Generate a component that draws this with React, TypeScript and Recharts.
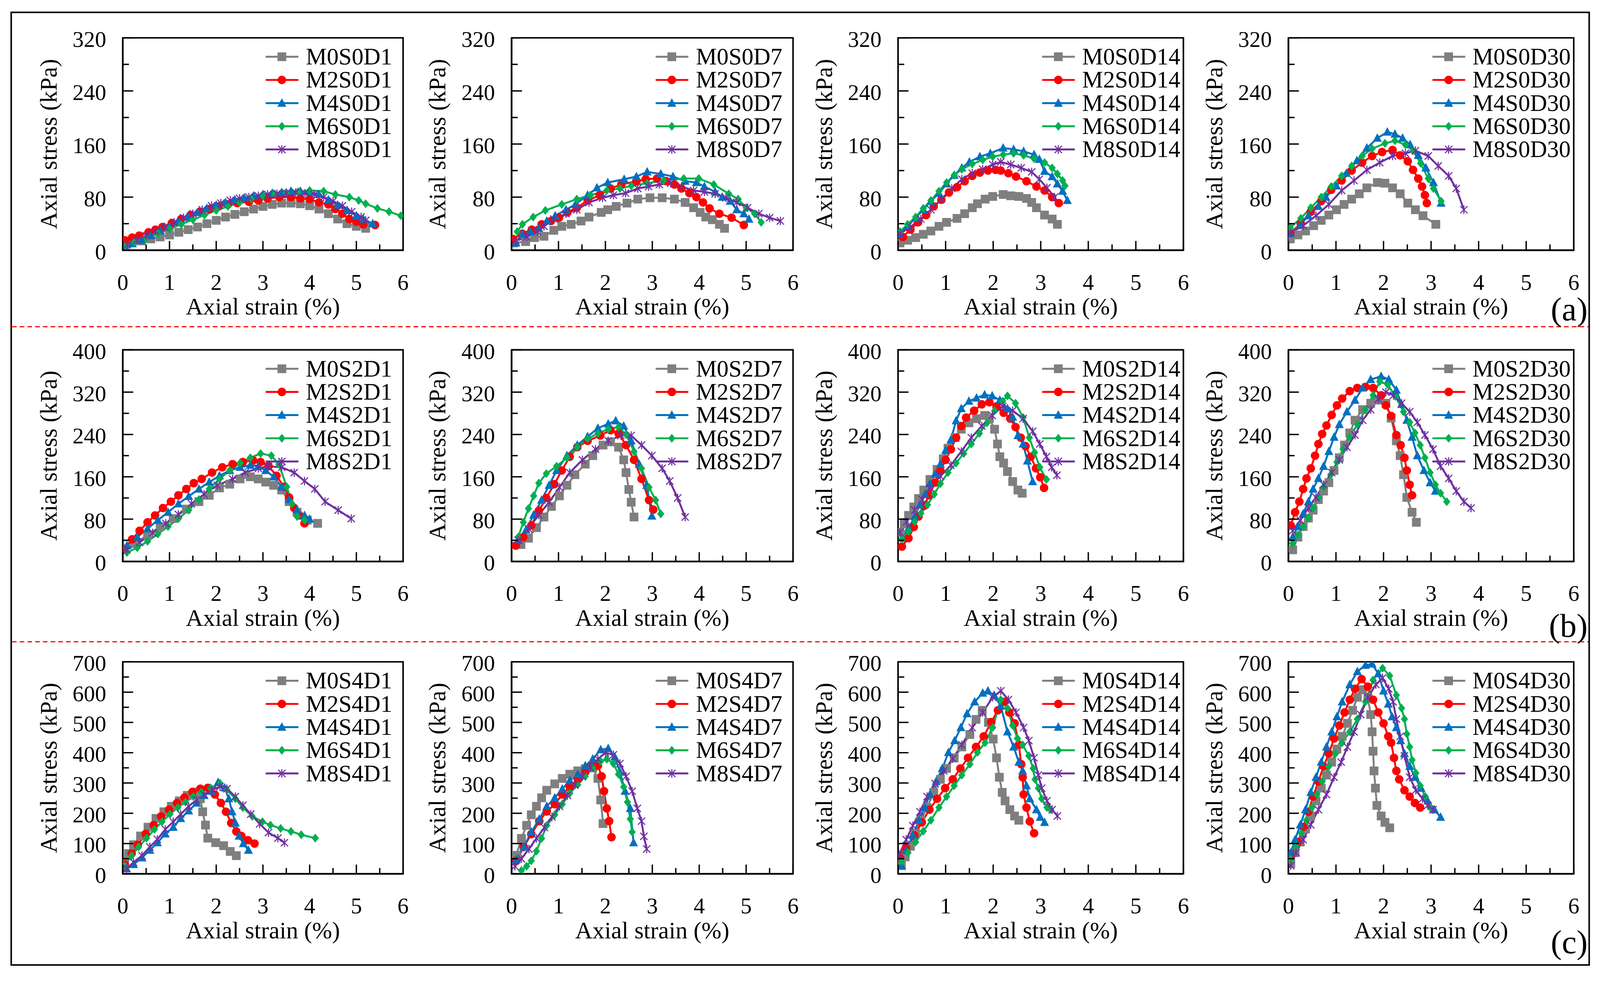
import { LineChart, Line, XAxis, YAxis, ReferenceArea, Legend, Label } from "recharts";

// ---- data: [axial strain (%), axial stress (kPa)] ----

// (a) S0
const M0S0D1 = [[0.05,8],[0.2,11],[0.4,14],[0.6,17],[0.8,20],[1.0,23],[1.2,27],[1.4,31],[1.6,35],[1.8,40],[2.0,45],[2.2,50],[2.4,54],[2.6,58],[2.8,62],[3.0,66],[3.2,69],[3.4,71],[3.6,71],[3.8,70],[4.0,67],[4.2,62],[4.4,55],[4.6,47],[4.8,40],[5.0,36],[5.2,33]];
const M2S0D1 = [[0.05,15],[0.2,19],[0.35,22],[0.55,27],[0.7,31],[0.85,35],[1.05,41],[1.25,47],[1.45,53],[1.65,58],[1.85,62],[2.05,66],[2.25,69],[2.45,71],[2.7,73],[2.9,75],[3.1,78],[3.35,80],[3.6,80],[3.8,78],[4.0,77],[4.2,72],[4.4,69],[4.55,62],[4.7,55],[4.85,47],[5.0,43],[5.15,39],[5.4,38]];
const M4S0D1 = [[0.05,3],[0.2,10],[0.4,15],[0.6,22],[0.8,29],[1.0,36],[1.2,43],[1.4,50],[1.6,57],[1.8,63],[2.0,68],[2.2,72],[2.4,76],[2.6,79],[2.8,82],[3.0,84],[3.2,86],[3.4,87],[3.6,89],[3.8,89],[4.0,88],[4.2,84],[4.4,76],[4.6,68],[4.8,60],[5.0,52],[5.15,47],[5.35,40]];
const M6S0D1 = [[0.05,7],[0.25,12],[0.5,18],[0.75,25],[1.0,32],[1.25,39],[1.5,46],[1.75,53],[2.0,60],[2.25,66],[2.5,72],[2.75,77],[3.0,81],[3.25,85],[3.5,87],[3.75,88],[4.0,90],[4.3,89],[4.55,84],[4.85,80],[5.05,75],[5.2,70],[5.45,63],[5.7,58],[5.95,52]];
const M8S0D1 = [[0.1,8],[0.3,15],[0.5,22],[0.7,29],[0.9,35],[1.1,42],[1.3,49],[1.5,55],[1.7,61],[1.9,67],[2.1,71],[2.3,75],[2.5,78],[2.7,80],[2.9,82],[3.1,84],[3.3,85],[3.5,86],[3.7,87],[3.9,86],[4.1,84],[4.3,80],[4.5,74],[4.7,67],[4.9,58],[5.1,50],[5.2,45]];

const M0S0D7 = [[0.05,11],[0.3,13],[0.49,19],[0.69,21],[0.9,30],[1.07,36],[1.27,39],[1.48,44],[1.65,50],[1.91,57],[2.05,61],[2.23,66],[2.46,71],[2.69,77],[2.95,79],[3.21,79],[3.47,77],[3.7,72],[3.88,64],[4.02,57],[4.14,50],[4.28,46],[4.43,39],[4.54,33]];
const M2S0D7 = [[0.03,17],[0.23,25],[0.43,31],[0.64,39],[0.84,44],[1.01,49],[1.19,57],[1.39,64],[1.62,75],[1.88,83],[2.11,93],[2.34,99],[2.66,104],[2.86,107],[3.1,108],[3.3,104],[3.47,99],[3.62,93],[3.79,86],[3.94,80],[4.08,72],[4.22,63],[4.43,55],[4.69,49],[4.95,38]];
const M4S0D7 = [[0.09,11],[0.23,24],[0.4,28],[0.58,33],[0.75,44],[0.93,52],[1.16,61],[1.36,69],[1.62,83],[1.82,94],[2.05,102],[2.4,107],[2.66,111],[2.89,118],[3.18,115],[3.44,111],[3.7,104],[3.94,102],[4.11,96],[4.34,88],[4.49,80],[4.66,74],[4.8,61],[4.95,55],[5.06,47]];
const M6S0D7 = [[0.12,28],[0.23,39],[0.46,50],[0.72,60],[1.07,69],[1.39,77],[1.68,83],[2.03,90],[2.31,93],[2.55,97],[2.89,101],[3.24,105],[3.67,108],[3.99,108],[4.31,99],[4.63,85],[4.83,77],[5.0,64],[5.18,55],[5.32,42]];
const M8S0D7 = [[0.09,14],[0.32,20],[0.55,28],[0.69,36],[0.9,47],[1.16,55],[1.39,61],[1.65,72],[1.94,79],[2.17,83],[2.43,86],[2.69,93],[2.92,96],[3.15,99],[3.39,101],[3.62,96],[3.88,90],[4.11,88],[4.34,85],[4.57,79],[4.8,72],[5.03,64],[5.27,55],[5.5,49],[5.73,44]];

const M0S0D14 = [[0.04,11],[0.2,15],[0.37,19],[0.53,24],[0.69,29],[0.86,36],[1.02,42],[1.24,48],[1.4,55],[1.56,64],[1.67,70],[1.83,77],[1.99,81],[2.21,84],[2.37,82],[2.54,81],[2.7,78],[2.81,72],[2.91,64],[3.08,53],[3.24,47],[3.35,39]];
const M2S0D14 = [[0.1,20],[0.26,31],[0.42,42],[0.59,53],[0.75,66],[0.91,76],[1.07,87],[1.24,95],[1.4,104],[1.56,112],[1.72,117],[1.89,120],[2.05,121],[2.16,120],[2.32,116],[2.48,111],[2.7,104],[2.91,96],[3.08,90],[3.24,80],[3.38,71]];
const M4S0D14 = [[0.04,24],[0.2,36],[0.37,49],[0.53,61],[0.69,74],[0.86,86],[1.02,100],[1.18,113],[1.34,124],[1.5,133],[1.72,141],[1.94,146],[2.21,154],[2.43,152],[2.64,149],[2.86,144],[2.97,137],[3.08,119],[3.24,111],[3.35,100],[3.46,89],[3.56,75]];
const M6S0D14 = [[0.04,28],[0.2,39],[0.37,50],[0.53,63],[0.69,75],[0.86,89],[1.02,102],[1.18,113],[1.34,122],[1.56,130],[1.78,136],[1.99,141],[2.21,144],[2.43,146],[2.64,143],[2.86,138],[3.08,132],[3.24,124],[3.35,115],[3.46,105],[3.51,97]];
const M8S0D14 = [[0.04,25],[0.26,35],[0.48,47],[0.69,61],[0.91,77],[1.13,93],[1.34,107],[1.56,116],[1.78,122],[1.99,129],[2.16,133],[2.37,129],[2.59,124],[2.81,118],[2.97,107],[3.13,94],[3.29,80]];

const M0S0D30 = [[0.04,17],[0.2,23],[0.36,29],[0.53,37],[0.69,45],[0.85,53],[1.01,61],[1.17,69],[1.33,77],[1.49,85],[1.65,94],[1.87,102],[2.03,101],[2.19,94],[2.35,85],[2.51,71],[2.67,61],[2.83,52],[3.1,39]];
const M2S0D30 = [[0.04,26],[0.26,40],[0.47,58],[0.69,74],[0.9,91],[1.12,105],[1.33,120],[1.55,132],[1.76,142],[1.97,148],[2.19,151],[2.35,143],[2.51,134],[2.62,121],[2.73,108],[2.81,96],[2.87,83],[2.91,71]];
const M4S0D30 = [[0.04,25],[0.26,39],[0.42,52],[0.63,66],[0.79,80],[1.01,97],[1.22,116],[1.44,135],[1.65,154],[1.87,169],[2.08,178],[2.24,175],[2.4,169],[2.56,159],[2.73,143],[2.89,124],[3.05,102],[3.21,71]];
const M6S0D30 = [[0.04,34],[0.26,48],[0.47,64],[0.69,80],[0.9,96],[1.12,112],[1.33,127],[1.55,142],[1.76,153],[2.03,161],[2.24,165],[2.46,159],[2.62,150],[2.78,131],[2.94,108],[3.05,93],[3.21,74]];
const M8S0D30 = [[0.04,26],[0.31,37],[0.58,52],[0.85,69],[1.12,90],[1.38,105],[1.65,121],[1.92,132],[2.19,142],[2.46,146],[2.67,150],[2.94,142],[3.15,127],[3.37,112],[3.53,93],[3.69,61]];

// (b) S2
const M0S2D1 = [[0.03,22],[0.25,34],[0.53,50],[0.8,66],[1.08,81],[1.36,99],[1.63,113],[1.85,125],[2.07,139],[2.29,146],[2.51,156],[2.73,160],[2.9,156],[3.06,150],[3.23,144],[3.4,135],[3.56,113],[3.73,93],[3.95,78],[4.17,72]];
const M2S2D1 = [[0.03,24],[0.2,42],[0.36,58],[0.53,74],[0.69,87],[0.86,101],[1.03,113],[1.19,125],[1.36,137],[1.52,148],[1.69,156],[1.91,168],[2.13,178],[2.35,184],[2.57,188],[2.79,191],[2.95,188],[3.12,180],[3.29,162],[3.45,141],[3.56,121],[3.67,101],[3.78,87],[3.89,72]];
const M4S2D1 = [[0.09,30],[0.31,46],[0.53,62],[0.75,78],[0.97,93],[1.19,109],[1.41,123],[1.63,137],[1.85,150],[2.07,162],[2.29,172],[2.51,178],[2.73,182],[2.9,180],[3.06,172],[3.23,160],[3.4,141],[3.56,117],[3.73,97],[3.89,87],[4.0,80]];
const M6S2D1 = [[0.09,17],[0.31,26],[0.53,38],[0.75,52],[0.97,66],[1.19,81],[1.41,97],[1.63,117],[1.85,137],[2.07,156],[2.29,172],[2.51,186],[2.73,196],[2.95,204],[3.18,200],[3.34,184],[3.51,141],[3.62,109],[3.73,85],[3.89,78]];
const M8S2D1 = [[0.09,22],[0.36,36],[0.64,54],[0.92,72],[1.19,89],[1.47,109],[1.74,127],[2.02,144],[2.35,156],[2.62,168],[2.9,176],[3.12,180],[3.4,178],[3.67,168],[3.89,152],[4.11,137],[4.33,113],[4.61,97],[4.89,81]];

const M0S2D7 = [[0.2,32],[0.36,44],[0.53,64],[0.69,84],[0.85,104],[1.02,124],[1.18,144],[1.35,164],[1.57,184],[1.73,200],[1.95,220],[2.11,226],[2.28,216],[2.39,192],[2.44,168],[2.5,136],[2.55,112],[2.61,84]];
const M2S2D7 = [[0.09,30],[0.25,46],[0.42,68],[0.58,96],[0.74,120],[0.91,146],[1.07,172],[1.24,198],[1.4,216],[1.62,228],[1.89,238],[2.11,248],[2.28,242],[2.44,220],[2.61,192],[2.77,156],[2.93,116],[3.02,98]];
const M4S2D7 = [[0.14,40],[0.31,60],[0.47,88],[0.64,116],[0.8,144],[0.96,172],[1.18,200],[1.4,220],[1.62,236],[1.84,252],[2.06,260],[2.22,266],[2.39,256],[2.55,228],[2.72,184],[2.88,144],[2.99,86]];
const M6S2D7 = [[0.14,46],[0.25,74],[0.36,100],[0.47,124],[0.58,148],[0.74,166],[0.96,180],[1.18,196],[1.4,216],[1.62,232],[1.84,242],[2.06,250],[2.28,254],[2.44,240],[2.61,208],[2.77,176],[2.93,140],[3.07,116],[3.18,90]];
const M8S2D7 = [[0.14,40],[0.36,62],[0.58,88],[0.8,112],[1.02,140],[1.24,168],[1.51,192],[1.79,212],[2.06,228],[2.33,238],[2.55,238],[2.77,220],[2.99,200],[3.21,176],[3.37,152],[3.54,120],[3.7,84]];

const M0S2D14 = [[0.04,55],[0.13,71],[0.22,87],[0.33,103],[0.43,119],[0.54,135],[0.67,155],[0.82,174],[0.95,194],[1.05,214],[1.2,234],[1.33,250],[1.49,262],[1.65,270],[1.82,276],[1.92,270],[2.03,250],[2.09,222],[2.14,198],[2.22,186],[2.3,170],[2.41,151],[2.52,135],[2.61,129]];
const M2S2D14 = [[0.08,28],[0.22,44],[0.33,65],[0.43,85],[0.54,105],[0.65,125],[0.78,149],[0.89,172],[1.0,192],[1.11,212],[1.22,234],[1.33,256],[1.43,272],[1.6,285],[1.76,297],[1.92,301],[2.07,293],[2.22,281],[2.36,270],[2.47,254],[2.58,234],[2.68,218],[2.79,198],[2.9,176],[2.99,159],[3.07,139]];
const M4S2D14 = [[0.08,44],[0.22,63],[0.35,85],[0.46,107],[0.57,127],[0.67,147],[0.78,165],[0.89,184],[1.0,210],[1.11,230],[1.22,266],[1.33,289],[1.49,303],[1.65,309],[1.82,315],[1.98,313],[2.14,305],[2.3,289],[2.41,273],[2.52,238],[2.63,222],[2.72,190],[2.83,151]];
const M6S2D14 = [[0.08,42],[0.22,57],[0.35,75],[0.48,91],[0.62,107],[0.76,127],[0.89,147],[1.05,168],[1.22,186],[1.38,204],[1.54,222],[1.71,242],[1.87,262],[2.03,285],[2.2,303],[2.3,313],[2.47,299],[2.63,272],[2.76,234],[2.87,206],[2.98,178],[3.12,155]];
const M8S2D14 = [[0.04,55],[0.18,75],[0.35,97],[0.51,117],[0.67,139],[0.89,161],[1.11,182],[1.33,208],[1.54,234],[1.76,256],[1.98,276],[2.2,293],[2.41,285],[2.63,270],[2.83,246],[2.98,222],[3.12,198],[3.23,178],[3.34,163]];

const M0S2D30 = [[0.09,22],[0.2,46],[0.31,66],[0.42,82],[0.52,97],[0.63,117],[0.74,133],[0.85,149],[0.96,172],[1.07,196],[1.18,220],[1.29,243],[1.4,267],[1.56,287],[1.73,299],[1.89,305],[2.05,299],[2.16,271],[2.27,228],[2.35,200],[2.42,164],[2.49,121],[2.6,93],[2.69,74]];
const M2S2D30 = [[0.05,68],[0.14,93],[0.23,113],[0.31,137],[0.38,157],[0.47,176],[0.56,200],[0.63,222],[0.71,241],[0.8,257],[0.91,277],[1.02,295],[1.13,308],[1.29,322],[1.45,328],[1.62,330],[1.78,328],[1.95,314],[2.05,295],[2.16,275],[2.27,239],[2.36,220],[2.44,196],[2.49,172],[2.55,145],[2.6,125]];
const M4S2D30 = [[0.09,46],[0.2,66],[0.31,90],[0.42,113],[0.52,137],[0.63,157],[0.74,180],[0.85,208],[0.96,235],[1.07,259],[1.23,283],[1.4,305],[1.56,328],[1.73,344],[1.95,350],[2.11,344],[2.27,324],[2.38,297],[2.49,267],[2.6,235],[2.71,200],[2.85,172],[2.98,149],[3.09,133]];
const M6S2D30 = [[0.09,34],[0.2,50],[0.31,66],[0.42,82],[0.52,101],[0.63,121],[0.74,141],[0.89,164],[1.02,188],[1.15,212],[1.29,235],[1.45,259],[1.62,287],[1.78,314],[1.92,340],[2.09,334],[2.25,312],[2.42,283],[2.55,263],[2.66,243],[2.77,220],[2.87,196],[2.98,168],[3.09,145],[3.2,129],[3.33,113]];
const M8S2D30 = [[0.09,58],[0.25,78],[0.42,101],[0.58,121],[0.74,145],[0.91,168],[1.07,192],[1.23,216],[1.4,239],[1.56,267],[1.73,287],[1.89,307],[2.05,320],[2.21,314],[2.38,299],[2.55,283],[2.71,263],[2.87,239],[3.04,212],[3.2,180],[3.37,157],[3.53,133],[3.69,113],[3.84,101]];

// (c) S4
const M0S4D1 = [[0.04,38],[0.12,67],[0.23,96],[0.38,125],[0.54,154],[0.71,183],[0.88,205],[1.04,223],[1.21,241],[1.38,259],[1.54,270],[1.66,248],[1.71,205],[1.77,161],[1.82,118],[1.99,103],[2.16,93],[2.3,74],[2.43,60]];
const M2S4D1 = [[0.04,31],[0.19,67],[0.32,96],[0.49,132],[0.66,161],[0.82,190],[0.99,212],[1.16,234],[1.32,252],[1.49,270],[1.66,281],[1.82,284],[1.97,262],[2.1,234],[2.21,205],[2.32,168],[2.43,140],[2.54,125],[2.68,111],[2.82,100]];
const M4S4D1 = [[0.08,17],[0.23,31],[0.41,53],[0.58,78],[0.74,103],[0.91,132],[1.08,154],[1.24,183],[1.41,208],[1.58,234],[1.74,259],[1.9,273],[2.04,302],[2.18,284],[2.27,248],[2.34,205],[2.41,168],[2.49,125],[2.58,100],[2.69,78]];
const M6S4D1 = [[0.04,27],[0.19,60],[0.34,89],[0.51,118],[0.68,147],[0.84,172],[1.01,197],[1.18,219],[1.34,237],[1.51,255],[1.68,270],[1.88,284],[2.08,299],[2.23,277],[2.41,248],[2.57,219],[2.77,190],[2.99,172],[3.16,161],[3.38,150],[3.6,140],[3.82,129],[4.12,118]];
const M8S4D1 = [[0.08,17],[0.23,38],[0.41,60],[0.58,89],[0.74,114],[0.91,147],[1.08,172],[1.24,197],[1.41,223],[1.58,244],[1.74,262],[1.91,277],[2.08,288],[2.23,281],[2.41,255],[2.57,226],[2.74,197],[2.93,165],[3.12,136],[3.32,118],[3.46,103]];

const M0S4D7 = [[0.1,61],[0.21,117],[0.32,160],[0.42,195],[0.53,223],[0.64,251],[0.75,276],[0.92,297],[1.08,315],[1.24,329],[1.41,340],[1.57,347],[1.73,350],[1.84,315],[1.9,244],[1.95,166]];
const M2S4D7 = [[0.1,43],[0.26,89],[0.42,131],[0.59,174],[0.75,206],[0.92,230],[1.08,262],[1.24,287],[1.41,312],[1.57,336],[1.73,361],[1.84,357],[1.92,322],[1.97,273],[2.03,216],[2.08,174],[2.13,121]];
const M4S4D7 = [[0.1,47],[0.26,89],[0.42,138],[0.59,181],[0.75,223],[0.92,251],[1.08,280],[1.24,308],[1.41,329],[1.57,357],[1.73,379],[1.9,410],[2.06,414],[2.2,386],[2.31,336],[2.42,273],[2.53,216],[2.6,103]];
const M6S4D7 = [[0.21,11],[0.32,25],[0.42,43],[0.53,75],[0.64,117],[0.75,160],[0.92,195],[1.08,230],[1.24,266],[1.41,294],[1.57,322],[1.73,350],[1.9,372],[2.03,379],[2.17,364],[2.28,329],[2.39,287],[2.47,237],[2.53,181],[2.57,138]];
const M8S4D7 = [[0.07,25],[0.21,50],[0.37,82],[0.53,117],[0.7,153],[0.86,188],[1.02,223],[1.19,259],[1.35,294],[1.51,322],[1.68,350],[1.84,379],[2.0,400],[2.17,393],[2.31,364],[2.44,322],[2.57,273],[2.68,216],[2.77,174],[2.82,124],[2.88,82]];

const M0S4D14 = [[0.07,27],[0.15,56],[0.26,91],[0.37,134],[0.48,177],[0.61,219],[0.75,269],[0.89,312],[1.02,348],[1.18,383],[1.34,419],[1.51,460],[1.64,510],[1.77,540],[1.9,500],[2.0,445],[2.07,383],[2.13,319],[2.19,269],[2.25,241],[2.35,212],[2.45,191],[2.54,177]];
const M2S4D14 = [[0.04,52],[0.17,84],[0.34,127],[0.5,170],[0.66,212],[0.82,248],[0.99,283],[1.15,312],[1.31,348],[1.47,383],[1.64,419],[1.8,454],[1.96,501],[2.1,540],[2.23,568],[2.34,533],[2.45,497],[2.54,426],[2.59,362],[2.62,319],[2.64,262],[2.7,219],[2.77,173],[2.86,134]];
const M4S4D14 = [[0.07,27],[0.17,77],[0.31,127],[0.44,177],[0.56,219],[0.67,262],[0.8,305],[0.93,348],[1.06,401],[1.19,440],[1.32,483],[1.45,529],[1.61,568],[1.78,597],[1.89,604],[2.02,590],[2.16,554],[2.3,469],[2.43,419],[2.54,369],[2.62,340],[2.7,291],[2.77,248],[2.91,212],[2.99,187],[3.08,170]];
const M6S4D14 = [[0.07,41],[0.21,70],[0.37,105],[0.53,141],[0.69,177],[0.86,219],[1.02,255],[1.18,291],[1.34,326],[1.51,362],[1.67,401],[1.83,433],[1.99,483],[2.16,575],[2.3,547],[2.41,490],[2.51,447],[2.62,426],[2.75,390],[2.84,348],[2.88,312],[2.95,283],[3.02,248],[3.13,219],[3.21,212]];
const M8S4D14 = [[0.02,63],[0.17,113],[0.31,159],[0.46,205],[0.61,255],[0.78,298],[0.96,340],[1.15,380],[1.34,426],[1.56,483],[1.78,533],[1.99,583],[2.16,604],[2.32,575],[2.48,533],[2.64,483],[2.75,440],[2.86,383],[2.95,326],[3.02,283],[3.13,241],[3.24,212],[3.35,191]];

const M0S4D30 = [[0.05,34],[0.14,70],[0.25,105],[0.36,148],[0.47,191],[0.58,241],[0.69,283],[0.8,326],[0.91,369],[1.02,412],[1.13,454],[1.24,497],[1.35,540],[1.45,583],[1.56,608],[1.67,583],[1.73,526],[1.76,469],[1.78,405],[1.8,340],[1.83,283],[1.86,226],[1.95,191],[2.03,170],[2.13,152]];
const M2S4D30 = [[0.05,63],[0.2,105],[0.31,155],[0.42,205],[0.52,255],[0.63,305],[0.74,355],[0.85,397],[0.96,447],[1.07,490],[1.18,533],[1.29,575],[1.4,611],[1.54,643],[1.67,618],[1.78,575],[1.89,533],[2.0,497],[2.1,454],[2.16,433],[2.22,383],[2.27,340],[2.33,312],[2.44,276],[2.55,255],[2.66,234],[2.77,219]];
const M4S4D30 = [[0.05,70],[0.14,113],[0.25,162],[0.36,212],[0.47,269],[0.58,319],[0.69,369],[0.8,419],[0.91,469],[1.02,519],[1.13,568],[1.29,625],[1.45,668],[1.62,689],[1.76,693],[1.89,661],[2.0,604],[2.1,561],[2.18,519],[2.27,483],[2.36,440],[2.44,397],[2.55,355],[2.66,319],[2.79,283],[2.93,241],[3.07,212],[3.2,187]];
const M6S4D30 = [[0.05,48],[0.16,91],[0.27,134],[0.38,177],[0.49,219],[0.6,262],[0.71,305],[0.85,355],[0.99,397],[1.13,433],[1.29,469],[1.45,511],[1.62,568],[1.78,640],[1.98,679],[2.13,654],[2.27,590],[2.38,547],[2.44,511],[2.49,462],[2.55,419],[2.6,376],[2.68,333],[2.77,291],[2.88,255],[2.98,219]];
const M8S4D30 = [[0.05,27],[0.16,70],[0.31,113],[0.47,162],[0.63,212],[0.8,262],[0.96,319],[1.11,369],[1.24,419],[1.38,469],[1.52,526],[1.67,583],[1.84,625],[1.98,647],[2.11,611],[2.2,568],[2.27,511],[2.35,454],[2.44,390],[2.55,319],[2.68,276],[2.82,248],[2.93,226],[3.04,212]];

const SERIES: Record<string, number[][]> = {
  M0S0D1, M2S0D1, M4S0D1, M6S0D1, M8S0D1,
  M0S0D7, M2S0D7, M4S0D7, M6S0D7, M8S0D7,
  M0S0D14, M2S0D14, M4S0D14, M6S0D14, M8S0D14,
  M0S0D30, M2S0D30, M4S0D30, M6S0D30, M8S0D30,
  M0S2D1, M2S2D1, M4S2D1, M6S2D1, M8S2D1,
  M0S2D7, M2S2D7, M4S2D7, M6S2D7, M8S2D7,
  M0S2D14, M2S2D14, M4S2D14, M6S2D14, M8S2D14,
  M0S2D30, M2S2D30, M4S2D30, M6S2D30, M8S2D30,
  M0S4D1, M2S4D1, M4S4D1, M6S4D1, M8S4D1,
  M0S4D7, M2S4D7, M4S4D7, M6S4D7, M8S4D7,
  M0S4D14, M2S4D14, M4S4D14, M6S4D14, M8S4D14,
  M0S4D30, M2S4D30, M4S4D30, M6S4D30, M8S4D30,
};

const MIXES = ["M0", "M2", "M4", "M6", "M8"];
const SALTS = ["S0", "S2", "S4"];
const CURES = ["D1", "D7", "D14", "D30"];
const Y_MAX = [320, 400, 700];
const Y_MAJOR = [80, 80, 100];
const X_TICKS = [0, 0.5, 1, 1.5, 2, 2.5, 3, 3.5, 4, 4.5, 5, 5.5, 6];
const ROW_TAGS = ["(a)", "(b)", "(c)"];

// ---- styling / layout ----
const FONT = '"Liberation Serif", "Times New Roman", serif';
const COLORS = ["#7f7f7f", "#ff0000", "#0070c0", "#00b050", "#7030a0"];
const SHAPES = ["square", "circle", "triangle", "diamond", "star"];

const PAGE_W = 4144;
const PAGE_H = 2529;
const PLOT_LEFT = [318, 1325, 2326, 3337];
const PLOT_RIGHT = [1044, 2054, 3065, 4076];
const PLOT_TOP = [98, 906, 1714];
const PLOT_BOTTOM = [648, 1454, 2263];
const Y_AXIS_W = 250;
const X_AXIS_H = 200;
const M_TOP = 45;
const M_RIGHT = 20;

const Marker = ({ shape, cx, cy, color, s = 11 }: any) => {
  if (cx == null || cy == null) return null;
  switch (shape) {
    case "square":
      return <rect x={cx - s * 1.03} y={cy - s * 1.03} width={s * 2.06} height={s * 2.06} fill={color} />;
    case "circle":
      return <circle cx={cx} cy={cy} r={s} fill={color} />;
    case "triangle":
      return <polygon points={`${cx},${cy - s * 1.15} ${cx + s * 1.05},${cy + s * 0.85} ${cx - s * 1.05},${cy + s * 0.85}`} fill={color} />;
    case "diamond":
      return <polygon points={`${cx},${cy - s * 1.05} ${cx + s * 0.85},${cy} ${cx},${cy + s * 1.05} ${cx - s * 0.85},${cy}`} fill={color} />;
    default:
      return (
        <g stroke={color} strokeWidth={2.8}>
          <line x1={cx - s * 0.85} y1={cy - s * 0.85} x2={cx + s * 0.85} y2={cy + s * 0.85} />
          <line x1={cx - s * 0.85} y1={cy + s * 0.85} x2={cx + s * 0.85} y2={cy - s * 0.85} />
          <line x1={cx} y1={cy - s} x2={cx} y2={cy + s} />
        </g>
      );
  }
};

const XTick = (p: any) => {
  const { x, y, payload } = p;
  const v = payload.value;
  const major = Math.abs(v - Math.round(v)) < 1e-6;
  return (
    <g>
      <line x1={x} x2={x} y1={y} y2={y - (major ? 24 : 15)} stroke="#000" strokeWidth={3.5} />
      {major && (
        <text x={x} y={y + 82} dy="0.35em" textAnchor="middle" fontSize={58} fontFamily={FONT} fill="#000">
          {v}
        </text>
      )}
    </g>
  );
};

const makeYTick = (step: number) => (p: any) => {
  const { x, y, payload } = p;
  const v = payload.value;
  const major = v % step === 0;
  return (
    <g>
      <line x1={x} x2={x + (major ? 27 : 16)} y1={y} y2={y} stroke="#000" strokeWidth={3.5} />
      {major && (
        <text x={x - 43} y={y + 3} dy="0.35em" textAnchor="end" fontSize={58} fontFamily={FONT} fill="#000">
          {v}
        </text>
      )}
    </g>
  );
};

const LegendBox = ({ names }: { names: string[] }) => (
  <div style={{ fontFamily: FONT, fontSize: 61, color: "#000" }}>
    {names.map((n, i) => (
      <div key={n} style={{ display: "flex", alignItems: "center", justifyContent: "flex-end", height: 60 }}>
        <svg width={85} height={60}>
          <line x1={0} x2={85} y1={30} y2={30} stroke={COLORS[i]} strokeWidth={5} />
          <Marker shape={SHAPES[i]} cx={42} cy={30} color={COLORS[i]} s={11} />
        </svg>
        <span style={{ marginLeft: 19, lineHeight: "60px", whiteSpace: "nowrap" }}>{n}</span>
      </div>
    ))}
  </div>
);

const Panel = ({ row, col }: { row: number; col: number }) => {
  const plotW = PLOT_RIGHT[col] - PLOT_LEFT[col];
  const plotH = PLOT_BOTTOM[row] - PLOT_TOP[row];
  const width = plotW + Y_AXIS_W + M_RIGHT;
  const height = plotH + M_TOP + X_AXIS_H;
  const yMax = Y_MAX[row];
  const yStep = Y_MAJOR[row];
  const yTicks: number[] = [];
  for (let v = 0; v <= yMax; v += yStep / 2) yTicks.push(v);
  const names = MIXES.map((m) => `${m}${SALTS[row]}${CURES[col]}`);
  const legendRight = M_RIGHT + (CURES[col].length > 2 ? 8 : 28);

  return (
    <div style={{ position: "absolute", left: PLOT_LEFT[col] - Y_AXIS_W, top: PLOT_TOP[row] - M_TOP }}>
      <LineChart width={width} height={height} margin={{ top: M_TOP, right: M_RIGHT, bottom: 0, left: 0 }}>
        <XAxis
          dataKey="x"
          type="number"
          domain={[0, 6]}
          ticks={X_TICKS}
          interval={0}
          allowDataOverflow
          height={X_AXIS_H}
          tickSize={0}
          tickMargin={0}
          tickLine={false}
          tick={XTick}
          axisLine={{ stroke: "#000", strokeWidth: 4 }}
        >
          <Label
            content={(lp: any) => {
              const vb = lp.viewBox;
              return (
                <text x={vb.x + vb.width / 2} y={vb.y + 145} dy="0.35em" textAnchor="middle" fontSize={62} fontFamily={FONT} fill="#000">
                  Axial strain (%)
                </text>
              );
            }}
          />
        </XAxis>
        <YAxis
          type="number"
          domain={[0, yMax]}
          ticks={yTicks}
          interval={0}
          allowDataOverflow
          width={Y_AXIS_W}
          tickSize={0}
          tickMargin={0}
          tickLine={false}
          tick={makeYTick(yStep)}
          axisLine={{ stroke: "#000", strokeWidth: 4 }}
        >
          <Label
            content={(lp: any) => {
              const vb = lp.viewBox;
              const cx = vb.x + vb.width - 193;
              const cy = vb.y + vb.height / 2;
              return (
                <text x={cx} y={cy} dy="0.35em" textAnchor="middle" fontSize={62} fontFamily={FONT} fill="#000" transform={`rotate(-90 ${cx} ${cy})`}>
                  Axial stress (kPa)
                </text>
              );
            }}
          />
        </YAxis>
        <ReferenceArea x1={0} x2={6} y1={0} y2={yMax} fill="none" stroke="#000" strokeWidth={4} />
        {names.map((n, i) => (
          <Line
            key={n}
            data={SERIES[n].map(([x, y]) => ({ x, y }))}
            dataKey="y"
            name={n}
            type="linear"
            stroke={COLORS[i]}
            strokeWidth={5}
            activeDot={false}
            isAnimationActive={false}
            dot={(dp: any) => (
              <Marker key={`${n}-${dp.index}`} shape={SHAPES[i]} cx={dp.cx} cy={dp.cy} color={COLORS[i]} />
            )}
          />
        ))}
        <Legend
          layout="vertical"
          align="center"
          verticalAlign="middle"
          content={() => <LegendBox names={names} />}
          wrapperStyle={{ top: M_TOP + 19, right: legendRight, left: "auto", width: "auto" }}
        />
      </LineChart>
    </div>
  );
};

export default function App() {
  // fit the fixed-size figure into whatever viewport the page really has
  const k =
    typeof window !== "undefined"
      ? Math.min(1, window.innerWidth / PAGE_W, window.innerHeight / PAGE_H)
      : 1;
  return (
    <div style={{ position: "absolute", left: 0, top: 0, width: PAGE_W * k, height: PAGE_H * k, overflow: "hidden", background: "#fff" }}>
      <div style={{ position: "absolute", left: 0, top: 0, width: PAGE_W, height: PAGE_H, transform: `scale(${k})`, transformOrigin: "0 0" }}>
        {SALTS.map((_, r) => CURES.map((__, c) => <Panel key={`${r}-${c}`} row={r} col={c} />))}
        <svg width={PAGE_W} height={PAGE_H} style={{ position: "absolute", left: 0, top: 0, pointerEvents: "none" }}>
          <rect x={29} y={32} width={4087} height={2467} fill="none" stroke="#000" strokeWidth={4} />
          <line x1={31} x2={4114} y1={846} y2={846} stroke="#ff0000" strokeWidth={3} strokeDasharray="12 8" />
          <line x1={31} x2={4114} y1={1662} y2={1662} stroke="#ff0000" strokeWidth={3} strokeDasharray="12 8" />
          {ROW_TAGS.map((t, i) => (
            <text key={t} x={4112} y={[830, 1649, 2469][i]} textAnchor="end" fontSize={86} fontFamily={FONT} fill="#000">
              {t}
            </text>
          ))}
        </svg>
      </div>
    </div>
  );
}
